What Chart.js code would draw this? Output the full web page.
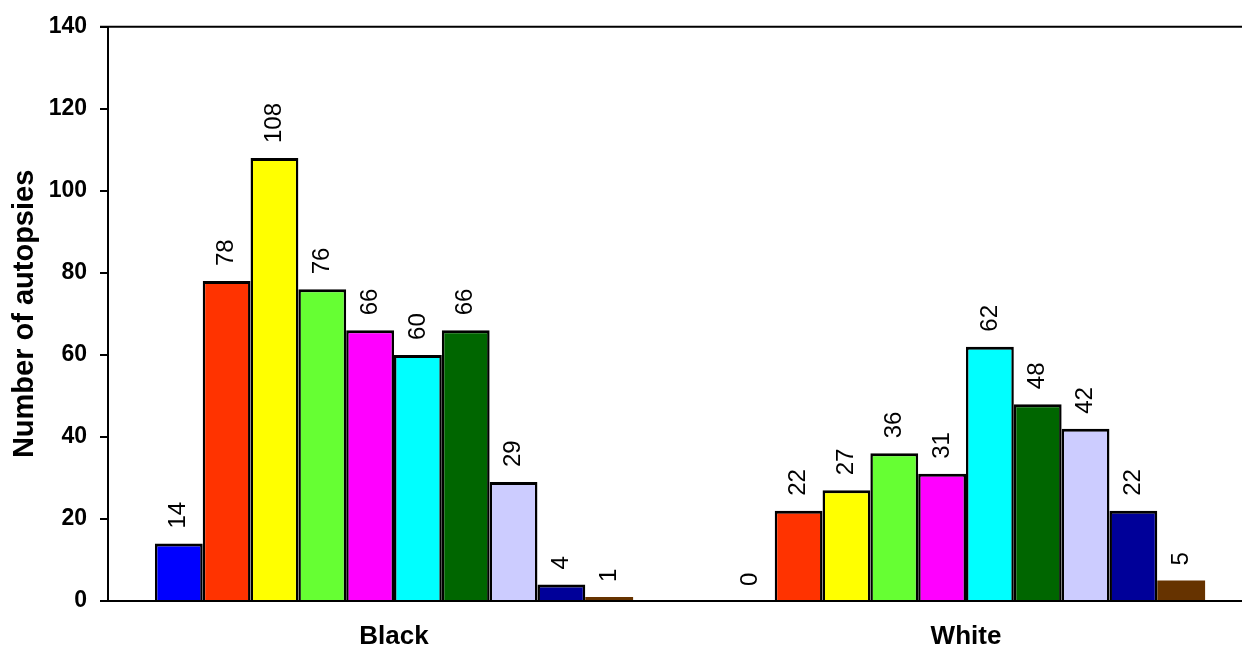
<!DOCTYPE html>
<html>
<head>
<meta charset="utf-8">
<script src="https://cdn.jsdelivr.net/npm/chart.js@4.4.1/dist/chart.umd.min.js"></script>
<style>
  html, body { margin: 0; padding: 0; background: #ffffff; overflow: hidden; }
  #wrap { width: 1242px; height: 645px; overflow: hidden; }
  canvas { display: block; }
</style>
</head>
<body>
<div id="wrap"><canvas id="chart" width="1262" height="645"></canvas></div>
<script>
// Autopsy counts by group; one series per colour band
const categories = ['Black', 'White'];
const series1 = [14, 0];
const series2 = [78, 22];
const series3 = [108, 27];
const series4 = [76, 36];
const series5 = [66, 31];
const series6 = [60, 62];
const series7 = [66, 48];
const series8 = [29, 42];
const series9 = [4, 22];
const series10 = [1, 5];
const yTicks = [0, 20, 40, 60, 80, 100, 120, 140];

const allSeries = [series1, series2, series3, series4, series5, series6, series7, series8, series9, series10];
const fills = ['#0000FF', '#FF3300', '#FFFF00', '#66FF33', '#FF00FF', '#00FFFF', '#006600', '#CCCCFF', '#000099', '#663300'];
const outlined = [true, true, true, true, true, true, true, true, true, false];

const FONT = 'Arial, "Liberation Sans", Helvetica, sans-serif';

// Vertical value labels above each bar
const valueLabels = {
  id: 'valueLabels',
  afterDatasetsDraw(chart) {
    const ctx = chart.ctx;
    ctx.save();
    ctx.font = '24px ' + FONT;
    ctx.fillStyle = '#000000';
    ctx.textAlign = 'left';
    ctx.textBaseline = 'middle';
    chart.data.datasets.forEach((ds, i) => {
      chart.getDatasetMeta(i).data.forEach((bar, j) => {
        ctx.save();
        ctx.translate(bar.x, bar.y - 15);
        ctx.rotate(-Math.PI / 2);
        ctx.fillText(String(ds.data[j]), 0, 0);
        ctx.restore();
      });
    });
    ctx.restore();
  }
};

// Frame line along the top of the plot area
const topFrame = {
  id: 'topFrame',
  afterDraw(chart) {
    const { ctx, chartArea } = chart;
    ctx.save();
    ctx.strokeStyle = '#000000';
    ctx.lineWidth = 2;
    ctx.beginPath();
    ctx.moveTo(chartArea.left - 8, chartArea.top);
    ctx.lineTo(chartArea.right, chartArea.top);
    ctx.stroke();
    ctx.restore();
  }
};

new Chart(document.getElementById('chart'), {
  type: 'bar',
  data: {
    labels: categories,
    datasets: allSeries.map((d, i) => ({
      data: d,
      backgroundColor: fills[i],
      borderColor: '#000000',
      borderWidth: outlined[i] ? { top: 3, left: 2.5, right: 2.5, bottom: 0 } : 0,
      borderSkipped: 'start',
      inflateAmount: 0,
      categoryPercentage: 0.836,
      barPercentage: 1.0
    }))
  },
  options: {
    responsive: false,
    animation: false,
    layout: { padding: { top: 25, right: 10, left: 0, bottom: 0 } },
    plugins: {
      legend: { display: false },
      tooltip: { enabled: false }
    },
    scales: {
      x: {
        grid: { display: false, drawTicks: false },
        border: { display: true, color: '#000000', width: 2 },
        ticks: {
          color: '#000000',
          padding: 20,
          font: { family: FONT, size: 26, weight: 'bold' }
        },
        afterFit(scale) { scale.height = 44; }
      },
      y: {
        min: 0,
        max: 140,
        afterBuildTicks(scale) { scale.ticks = yTicks.map(v => ({ value: v })); },
        grid: {
          drawOnChartArea: false,
          drawTicks: true,
          tickLength: 8,
          tickColor: '#000000',
          lineWidth: 2
        },
        border: { display: true, color: '#000000', width: 2 },
        ticks: {
          color: '#000000',
          padding: 13,
          font: { family: FONT, size: 23, weight: 'bold' }
        },
        title: {
          display: true,
          text: 'Number of autopsies',
          color: '#000000',
          padding: { top: 8, bottom: 0 },
          font: { family: FONT, size: 29, weight: 'bold' }
        },
        afterFit(scale) { scale.width = 108; }
      }
    }
  },
  plugins: [valueLabels, topFrame]
});
</script>
</body>
</html>
